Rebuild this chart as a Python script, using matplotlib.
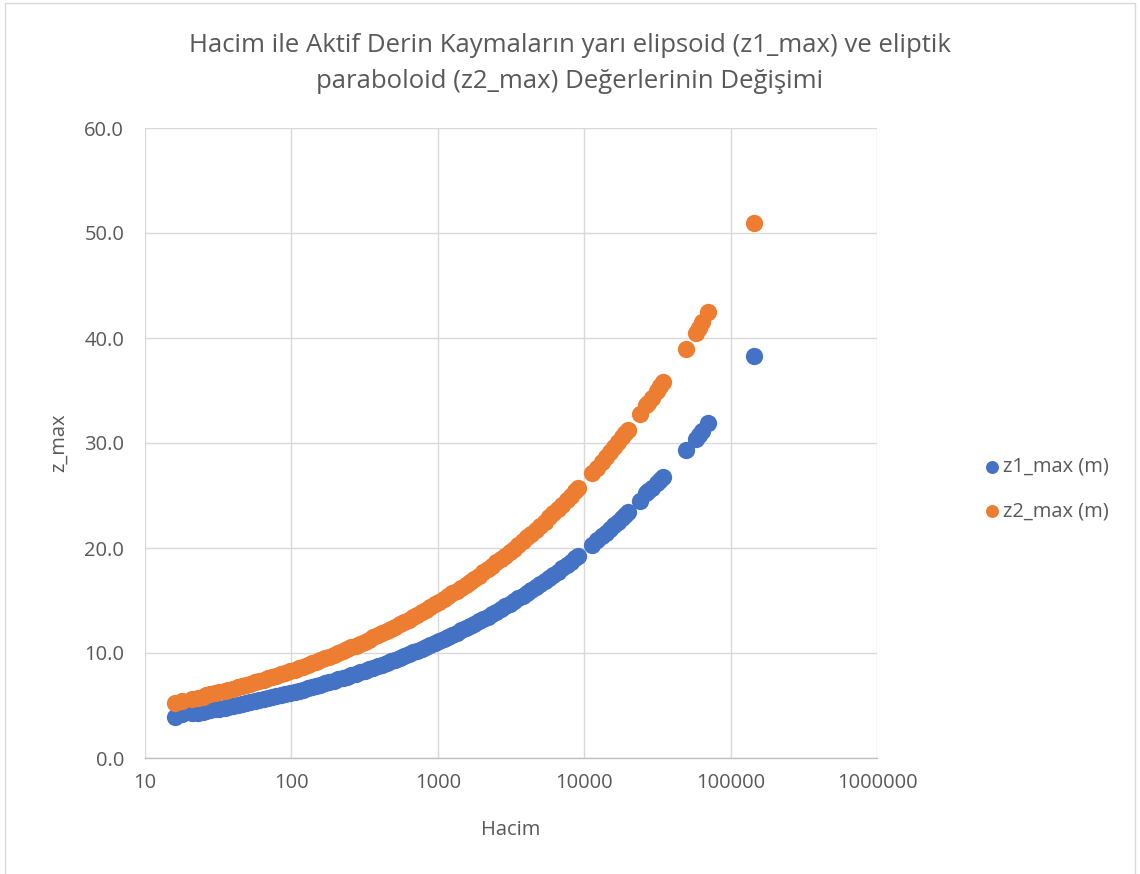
import matplotlib
matplotlib.use("Agg")
import matplotlib.pyplot as plt
from matplotlib.ticker import FixedLocator, FuncFormatter, NullLocator
from matplotlib.patches import Rectangle

# ---- data ----
hacim = [16, 18,
         21, 23, 25, 26, 28, 30, 32, 35, 37, 40, 43, 46, 49, 52, 56, 60, 65, 69, 74, 79,
         85, 91, 98, 105, 112, 120, 129, 138, 148, 158, 170, 182, 195, 209, 224, 240,
         257, 275, 295, 316, 339, 363, 389, 417, 447, 479, 513, 550, 589, 631, 676, 724,
         776, 832, 891, 955, 1023, 1096, 1175, 1259, 1349, 1445, 1549, 1660, 1778, 1905,
         2042, 2188, 2344, 2512, 2692, 2884, 3090, 3311, 3548, 3802, 4074, 4365, 4677,
         5012, 5370, 5754, 6166, 6607, 7079, 7586, 8128, 8710, 9120,
         11300, 12230, 13230, 14090, 15050, 16030, 17060, 18180, 19100, 20010,
         24100, 26600, 27400, 29000, 31300, 32800, 34400,
         49300, 57800, 61000, 63500, 69800, 145000]

z1_max = [3.93, 4.16,
          4.24, 4.31, 4.39, 4.46, 4.54, 4.62, 4.70, 4.78, 4.86, 4.95, 5.03, 5.12, 5.21,
          5.30, 5.39, 5.49, 5.58, 5.68, 5.78, 5.88, 5.98, 6.09, 6.19, 6.30, 6.41, 6.52,
          6.64, 6.75, 6.87, 6.99, 7.11, 7.24, 7.36, 7.49, 7.62, 7.75, 7.89, 8.03, 8.17,
          8.31, 8.45, 8.60, 8.75, 8.90, 9.06, 9.21, 9.37, 9.54, 9.70, 9.87, 10.05, 10.22,
          10.40, 10.58, 10.76, 10.95, 11.14, 11.34, 11.53, 11.73, 11.94, 12.15, 12.36,
          12.57, 12.79, 13.02, 13.24, 13.47, 13.71, 13.95, 14.19, 14.44, 14.69, 14.94,
          15.20, 15.47, 15.74, 16.01, 16.29, 16.58, 16.86, 17.16, 17.46, 17.76, 18.07,
          18.39, 18.71, 19.03, 19.25,
          20.31, 20.72, 21.13, 21.46, 21.82, 22.17, 22.52, 22.88, 23.16, 23.43,
          24.5, 25.2, 25.4, 25.7, 26.2, 26.5, 26.8,
          29.3, 30.4, 30.8, 31.1, 31.9, 38.3]

z2_max = [5.27, 5.46,
          5.66, 5.75, 5.85, 5.96, 6.06, 6.17, 6.27, 6.38, 6.49, 6.61, 6.72, 6.84, 6.96,
          7.08, 7.20, 7.33, 7.46, 7.58, 7.72, 7.85, 7.99, 8.13, 8.27, 8.41, 8.56, 8.71,
          8.86, 9.01, 9.17, 9.33, 9.49, 9.66, 9.83, 10.00, 10.17, 10.35, 10.53, 10.71,
          10.90, 11.09, 11.28, 11.48, 11.68, 11.88, 12.09, 12.30, 12.52, 12.73, 12.96,
          13.18, 13.41, 13.64, 13.88, 14.12, 14.37, 14.62, 14.87, 15.13, 15.40, 15.67,
          15.94, 16.22, 16.50, 16.79, 17.08, 17.38, 17.68, 17.99, 18.30, 18.62, 18.94,
          19.27, 19.61, 19.95, 20.30, 20.65, 21.01, 21.38, 21.75, 22.13, 22.51, 22.91,
          23.31, 23.71, 24.12, 24.54, 24.97, 25.41, 25.70,
          27.12, 27.66, 28.21, 28.65, 29.14, 29.60, 30.06, 30.54, 30.92, 31.28,
          32.8, 33.6, 33.8, 34.3, 35.0, 35.4, 35.8,
          39.0, 40.5, 41.0, 41.5, 42.5, 51.0]

series_labels = ["z1_max (m)", "z2_max (m)"]
x_ticks = [10, 100, 1000, 10000, 100000, 1000000]
y_ticks = [0, 10, 20, 30, 40, 50, 60]
title_lines = ["Hacim ile Aktif Derin Kaymaların yarı elipsoid (z1_max) ve eliptik",
               "paraboloid (z2_max) Değerlerinin Değişimi"]
x_label = "Hacim"
y_label = "z_max"

# ---- style ----
plt.rcParams['font.family'] = ['Open Sans', 'DejaVu Sans']
TXT = '#595959'
GRID = '#d9d9d9'
BLUE = '#4472C4'
ORANGE = '#ED7D31'

W, H = 1140, 874
fig = plt.figure(figsize=(W / 100, H / 100), dpi=100)
fig.patch.set_facecolor('white')

# chart border
fig.patches.append(Rectangle((5 / W, -0.01), (1135 - 5) / W, 1 - 3 / H + 0.01,
                             transform=fig.transFigure, fill=False,
                             edgecolor=GRID, linewidth=1.0))

ax = fig.add_axes([145 / W, 1 - 758 / H, (877 - 145) / W, (758 - 128) / H])
ax.set_xscale('log')
ax.set_xlim(10, 1000000)
ax.set_ylim(0, 60)

ax.scatter(hacim, z1_max, s=155, color=BLUE, linewidths=0, label=series_labels[0], zorder=3)
ax.scatter(hacim, z2_max, s=155, color=ORANGE, linewidths=0, label=series_labels[1], zorder=3)

ax.xaxis.set_major_locator(FixedLocator(x_ticks))
ax.xaxis.set_minor_locator(NullLocator())
ax.xaxis.set_major_formatter(FuncFormatter(lambda v, p: f"{int(round(v))}"))
ax.yaxis.set_major_locator(FixedLocator(y_ticks))
ax.yaxis.set_major_formatter(FuncFormatter(lambda v, p: f"{v:.1f}"))

ax.grid(True, color=GRID, linewidth=1.0, zorder=0)
ax.set_axisbelow(True)
for side in ['top', 'right', 'left']:
    ax.spines[side].set_visible(False)
ax.spines['bottom'].set_color('#bfbfbf')
ax.spines['bottom'].set_linewidth(1.0)

ax.tick_params(axis='both', length=0, labelsize=14.5, labelcolor=TXT)
ax.tick_params(axis='x', pad=11)
ax.tick_params(axis='y', pad=15)

ax.set_xlabel(x_label, fontsize=14.5, color=TXT, labelpad=19)
ax.set_ylabel(y_label, fontsize=14.5, color=TXT, labelpad=11)

fig.text(0.5, 1 - 46 / H, title_lines[0], ha='center', va='center',
         fontsize=18.5, color=TXT)
fig.text(0.5, 1 - 81 / H, title_lines[1], ha='center', va='center',
         fontsize=18.5, color=TXT)

leg = fig.legend(loc='center left', bbox_to_anchor=(972 / W, 1 - 489 / H),
                 frameon=False, fontsize=14.5, labelcolor=TXT,
                 handlelength=1.0, handletextpad=0.05, labelspacing=1.2,
                 markerscale=0.75, borderpad=0)

fig.savefig('out.png', dpi=100)
